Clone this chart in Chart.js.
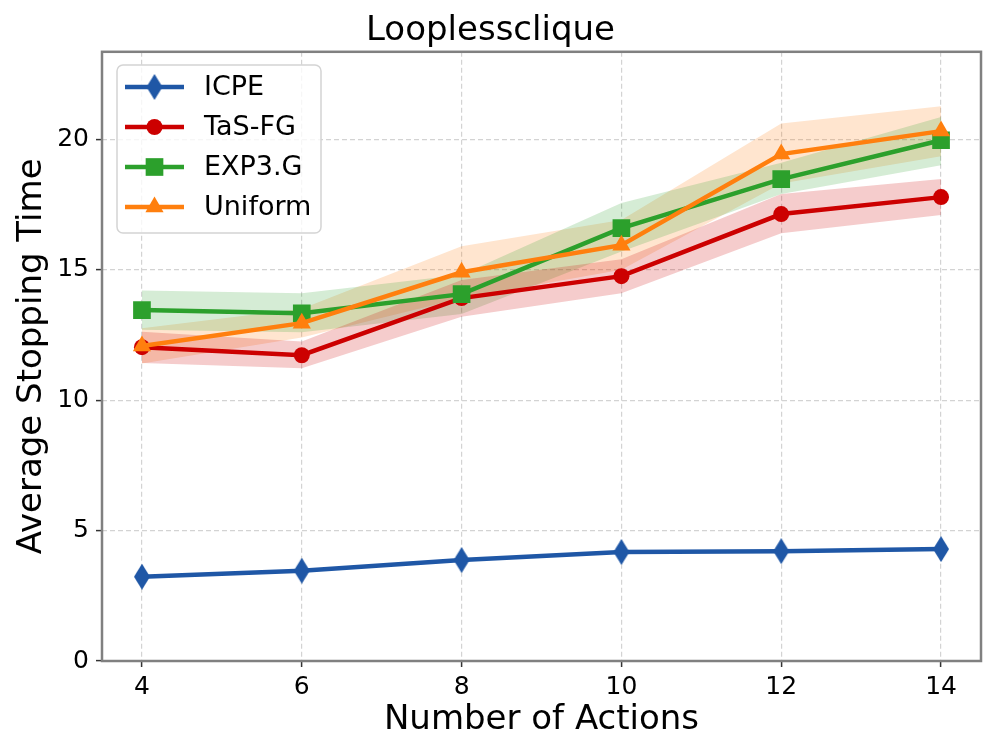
<!DOCTYPE html>
<html>
<head>
<meta charset="utf-8">
<title>Looplessclique</title>
<script src="https://cdn.jsdelivr.net/npm/chart.js@4"></script>
<style>
  html, body { margin: 0; padding: 0; background: #fff; }
  canvas { display: block; }
</style>
</head>
<body>
<canvas id="chart" width="996" height="756"></canvas>
<script>
// number of actions on the x axis
const actions = [4, 6, 8, 10, 12, 14];
const yTicks = [0, 5, 10, 15, 20];

// mean stopping times
const icpe    = [3.23, 3.46, 3.87, 4.18, 4.21, 4.29];
const tasfg   = [12.03, 11.72, 13.91, 14.75, 17.13, 17.78];
const exp3g   = [13.45, 13.33, 14.06, 16.59, 18.47, 19.96];
const uniform = [12.07, 12.95, 14.90, 15.94, 19.43, 20.31];

// shaded bands (lower / upper)
const tasfgLo   = [11.42, 11.22, 13.19, 14.10, 16.40, 17.09];
const tasfgHi   = [12.62, 12.25, 14.60, 15.40, 17.90, 18.47];
const exp3gLo   = [12.70, 12.60, 13.30, 15.70, 17.90, 19.00];
const exp3gHi   = [14.20, 14.10, 14.80, 17.55, 19.10, 20.85];
const uniformLo = [11.40, 12.40, 13.90, 15.00, 18.30, 19.35];
const uniformHi = [12.75, 13.50, 15.90, 16.90, 20.60, 21.26];

const BLUE = '#1f57a6', RED = '#cc0000', GREEN = '#2ca02c', ORANGE = '#ff7f0e';
const FONT = "'DejaVu Sans', sans-serif";

// thin diamond marker like matplotlib 'd'
function makeDiamond(color) {
  const c = document.createElement('canvas');
  c.width = 16; c.height = 26;
  const g = c.getContext('2d');
  g.fillStyle = color;
  g.beginPath();
  g.moveTo(8, 0); g.lineTo(16, 13); g.lineTo(8, 26); g.lineTo(0, 13);
  g.closePath();
  g.fill();
  return c;
}
const diamond = makeDiamond(BLUE);

const pts = ys => ys.map((y, i) => ({ x: actions[i], y: y }));

function band(lo, hi, color) {
  return [
    { data: pts(lo), borderWidth: 0, pointRadius: 0, backgroundColor: color, fill: false, order: 20, isBand: true },
    { data: pts(hi), borderWidth: 0, pointRadius: 0, backgroundColor: color, fill: '-1', order: 20, isBand: true }
  ];
}

function series(label, ys, color, style, radius, order) {
  return {
    label: label, data: pts(ys), borderColor: color, backgroundColor: color,
    borderWidth: 4.5, pointStyle: style, pointRadius: radius, pointHoverRadius: radius,
    pointBorderWidth: 0, fill: false, order: order, tension: 0
  };
}

const datasets = [
  ...band(tasfgLo, tasfgHi, 'rgba(204,0,0,0.2)'),
  ...band(exp3gLo, exp3gHi, 'rgba(44,160,44,0.2)'),
  ...band(uniformLo, uniformHi, 'rgba(255,127,14,0.2)'),
  series('ICPE', icpe, BLUE, diamond, 9, 3),
  series('TaS-FG', tasfg, RED, 'circle', 8, 2),
  series('EXP3.G', exp3g, GREEN, 'rect', 12.5, 1),
  series('Uniform', uniform, ORANGE, 'triangle', 10.5, 0)
];

function drawMarker(ctx, style, r, x, y, color) {
  ctx.fillStyle = color;
  if (typeof style === 'object') {
    ctx.drawImage(style, x - style.width / 2, y - style.height / 2);
    return;
  }
  ctx.beginPath();
  if (style === 'circle') {
    ctx.arc(x, y, r, 0, Math.PI * 2);
  } else if (style === 'rect') {
    const s = r * Math.SQRT1_2;
    ctx.rect(x - s, y - s, 2 * s, 2 * s);
  } else if (style === 'triangle') {
    const e = 3 * r / Math.sqrt(3), h = e * Math.sqrt(3) / 2;
    ctx.moveTo(x - e / 2, y + h / 3);
    ctx.lineTo(x + e / 2, y + h / 3);
    ctx.lineTo(x, y - 2 * h / 3);
    ctx.closePath();
  }
  ctx.fill();
}

// frame around the plot area and the matplotlib-like legend
const framePlugin = {
  id: 'frame',
  afterDatasetsDraw(chart) {
    const { ctx, chartArea: a } = chart;
    ctx.save();
    ctx.strokeStyle = '#808080';
    ctx.lineWidth = 2.5;
    ctx.strokeRect(a.left, a.top, a.right - a.left, a.bottom - a.top);
    ctx.restore();
  },
  afterDraw(chart) {
    const ctx = chart.ctx;
    ctx.save();
    const bx = 117, by = 65, bw = 204, bh = 168, rr = 6;
    ctx.beginPath();
    ctx.moveTo(bx + rr, by);
    ctx.arcTo(bx + bw, by, bx + bw, by + bh, rr);
    ctx.arcTo(bx + bw, by + bh, bx, by + bh, rr);
    ctx.arcTo(bx, by + bh, bx, by, rr);
    ctx.arcTo(bx, by, bx + bw, by, rr);
    ctx.closePath();
    ctx.fillStyle = 'rgba(255,255,255,0.8)';
    ctx.fill();
    ctx.strokeStyle = '#d4d4d4';
    ctx.lineWidth = 1.5;
    ctx.stroke();

    const lines = chart.data.datasets.filter(d => !d.isBand);
    lines.forEach((d, i) => {
      const y = 87 + i * 40;
      ctx.strokeStyle = d.borderColor;
      ctx.lineWidth = 4.5;
      ctx.beginPath();
      ctx.moveTo(125, y); ctx.lineTo(184, y);
      ctx.stroke();
      drawMarker(ctx, d.pointStyle, d.pointRadius, 154.5, y, d.borderColor);
      ctx.fillStyle = '#000';
      ctx.font = '27px ' + FONT;
      ctx.textBaseline = 'middle';
      ctx.textAlign = 'left';
      ctx.fillText(d.label, 204, y + 1);
    });
    ctx.restore();
  }
};

new Chart(document.getElementById('chart').getContext('2d'), {
  type: 'line',
  data: { datasets: datasets },
  plugins: [framePlugin],
  options: {
    responsive: false,
    animation: false,
    layout: { padding: { left: 0, right: 15, top: 0, bottom: 0 } },
    plugins: {
      legend: { display: false },
      tooltip: { enabled: false },
      title: {
        display: true,
        text: 'Looplessclique',
        color: '#000',
        font: { family: FONT, size: 34, weight: 'normal' },
        padding: { top: 11, bottom: 0 }
      }
    },
    scales: {
      x: {
        type: 'linear',
        min: 3.5,
        max: 14.5,
        afterBuildTicks: s => { s.ticks = actions.map(v => ({ value: v })); },
        afterFit: s => { s.height = 95; },
        ticks: { color: '#000', font: { family: FONT, size: 25 }, padding: 5, maxRotation: 0 },
        grid: { color: '#d3d3d3', lineWidth: 1.2, borderDash: [5, 3], tickColor: '#333', tickWidth: 1.5, tickLength: 6, tickBorderDash: [] },
        border: { display: false, dash: [5, 3] },
        title: { display: true, text: 'Number of Actions', color: '#000', font: { family: FONT, size: 34 }, padding: { top: 0, bottom: 15 } }
      },
      y: {
        type: 'linear',
        min: 0,
        max: 23.35,
        afterBuildTicks: s => { s.ticks = yTicks.map(v => ({ value: v })); },
        afterFit: s => { s.width = 102; },
        ticks: { color: '#000', font: { family: FONT, size: 25 }, padding: 7 },
        grid: { color: '#d3d3d3', lineWidth: 1.2, borderDash: [5, 3], tickColor: '#333', tickWidth: 1.5, tickLength: 6, tickBorderDash: [] },
        border: { display: false, dash: [5, 3] },
        title: { display: true, text: 'Average Stopping Time', color: '#000', font: { family: FONT, size: 34 }, padding: { top: 12, bottom: 0 } }
      }
    }
  }
});
</script>
</body>
</html>
